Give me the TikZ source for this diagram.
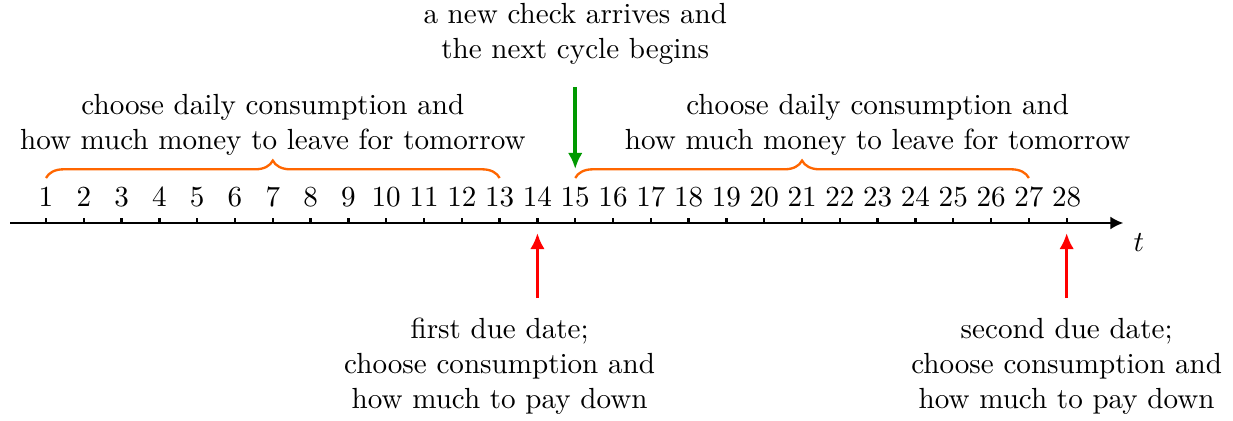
\documentclass[tikz,border=0pt]{standalone}
\usetikzlibrary{arrows.meta,decorations.pathreplacing}
\definecolor{braceorange}{RGB}{255,102,0}
\definecolor{checkgreen}{RGB}{0,153,0}
\begin{document}
\begin{tikzpicture}[x=0.4565cm,y=1cm,
  daybrace/.style={thick,braceorange,decorate,decoration={brace,amplitude=6pt}},
  duearrow/.style={line width=1.2pt,red,-{Latex[length=5.5pt,width=5pt]}},
  cyclearrow/.style={line width=1.2pt,checkgreen,-{Latex[length=5.5pt,width=5pt]}},
  note/.style={align=center}]
  \useasboundingbox (-0.217,-2.391) rectangle (32.40,2.693);
  %Origin and time axis
  \coordinate (O) at (0.05,0);
  \draw[thick,-{Latex[length=4.5pt,width=4.5pt]}] (O) -- (29.5,0) coordinate (tmax);
  \node[below right] (tlabel) at (tmax) {$t$};

  %Days of the month
  \foreach \d in {1,...,28}{
    \draw[thick] (\d,0) -- (\d,0.065) node[above] (day\d) {$\d$};
  }

  %Planning periods
  \draw[daybrace] (1,0.543) -- (13,0.543);
  \node[note] (plan1) at (7,1.185) {choose daily consumption and\\how much money to leave for tomorrow};
  \draw[daybrace] (15,0.543) -- (27,0.543);
  \node[note] (plan2) at (23,1.185) {choose daily consumption and\\how much money to leave for tomorrow};

  %New check
  \node[note] (newcheck) at (15,2.28) {a new check arrives and\\the next cycle begins};
  \coordinate (checkstart) at (15,1.643);
  \coordinate (checkend) at (15,0.652);
  \draw[cyclearrow] (checkstart) -- (checkend);

  %Due dates
  \node[note] (due1) at (13,-1.727) {first due date;\\choose consumption and\\how much to pay down};
  \coordinate (due1start) at (14,-0.906);
  \coordinate (due1end) at (14,-0.121);
  \draw[duearrow] (due1start) -- (due1end);
  \node[note] (due2) at (28,-1.727) {second due date;\\choose consumption and\\how much to pay down};
  \coordinate (due2start) at (28,-0.906);
  \coordinate (due2end) at (28,-0.121);
  \draw[duearrow] (due2start) -- (due2end);
\end{tikzpicture}
\end{document}
